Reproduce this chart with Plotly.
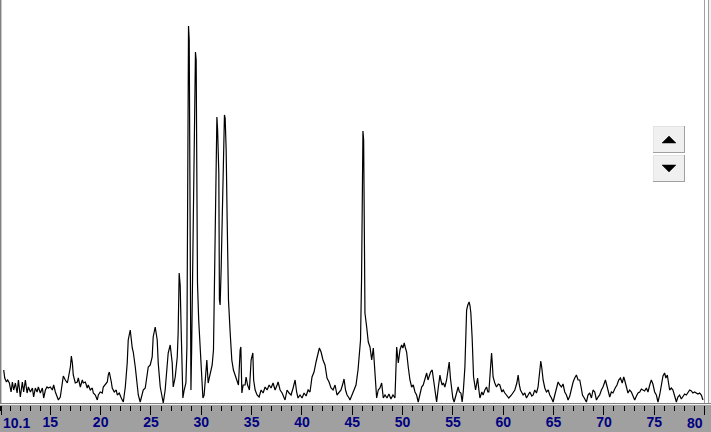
import plotly.graph_objects as go

# ---- data: 2-theta (deg) and intensity (arb. units) ----
two_theta = [
    10.37, 10.47, 10.64, 10.76, 10.93, 11.10, 11.23, 11.36, 11.53, 11.70,
    11.83, 12.02, 12.22, 12.35, 12.52, 12.69, 12.82, 13.02, 13.22, 13.34,
    13.51, 13.68, 13.81, 14.01, 14.21, 14.34, 14.51, 14.67, 14.80, 15.00,
    15.20, 15.33, 15.50, 15.67, 15.80, 15.99, 16.19, 16.29, 16.49, 16.69,
    16.79, 16.99, 17.09, 17.19, 17.28, 17.48, 17.68, 17.78, 17.98, 18.18,
    18.28, 18.48, 18.67, 18.77, 18.97, 19.17, 19.27, 19.47, 19.67, 19.77,
    19.96, 20.16, 20.26, 20.46, 20.66, 20.76, 20.86, 21.06, 21.15, 21.35,
    21.55, 21.65, 21.85, 22.05, 22.25, 22.45, 22.64, 22.74, 22.94, 23.14,
    23.24, 23.44, 23.64, 23.74, 23.93, 24.13, 24.23, 24.43, 24.63, 24.73,
    24.93, 25.12, 25.22, 25.42, 25.62, 25.72, 25.92, 26.12, 26.22, 26.41,
    26.61, 26.71, 26.91, 27.11, 27.21, 27.41, 27.61, 27.70, 27.80, 27.90,
    28.00, 28.17, 28.30, 28.47, 28.57, 28.65, 28.73, 28.80, 28.87, 28.97,
    29.04, 29.12, 29.22, 29.34, 29.42, 29.49, 29.62, 29.74, 29.89, 30.04,
    30.16, 30.28, 30.43, 30.55, 30.68, 30.88, 31.08, 31.21, 31.31, 31.38,
    31.55, 31.62, 31.74, 31.80, 31.87, 31.97, 32.04, 32.17, 32.30, 32.37,
    32.47, 32.57, 32.70, 32.87, 33.03, 33.19, 33.36, 33.51, 33.69, 33.86,
    33.93, 34.03, 34.16, 34.35, 34.45, 34.60, 34.78, 34.95, 35.12, 35.20,
    35.35, 35.54, 35.74, 35.94, 36.14, 36.34, 36.54, 36.74, 36.93, 37.13,
    37.33, 37.53, 37.63, 37.83, 38.03, 38.32, 38.52, 38.72, 38.92, 39.12,
    39.32, 39.47, 39.61, 39.81, 40.01, 40.21, 40.41, 40.61, 40.80, 41.00,
    41.20, 41.40, 41.60, 41.73, 41.90, 42.09, 42.29, 42.49, 42.69, 42.89,
    43.09, 43.29, 43.48, 43.68, 43.88, 44.08, 44.18, 44.33, 44.48, 44.68,
    44.77, 44.97, 45.17, 45.37, 45.57, 45.72, 45.82, 45.92, 45.99, 46.06,
    46.13, 46.19, 46.26, 46.43, 46.59, 46.76, 46.93, 47.09, 47.26, 47.42,
    47.58, 47.75, 47.92, 48.08, 48.25, 48.45, 48.64, 48.84, 49.04, 49.24,
    49.41, 49.57, 49.74, 49.90, 50.03, 50.16, 50.28, 50.40, 50.56, 50.73,
    50.90, 51.06, 51.23, 51.39, 51.55, 51.72, 51.89, 52.05, 52.22, 52.39,
    52.52, 52.61, 52.78, 52.94, 53.14, 53.26, 53.38, 53.54, 53.71, 53.80,
    53.93, 54.05, 54.20, 54.37, 54.50, 54.63, 54.75, 54.87, 54.99, 55.12,
    55.29, 55.52, 55.64, 55.79, 55.92, 56.04, 56.19, 56.29, 56.36, 56.48,
    56.61, 56.70, 56.78, 56.91, 57.05, 57.25, 57.45, 57.58, 57.68, 57.87,
    58.00, 58.17, 58.34, 58.47, 58.57, 58.72, 58.84, 58.92, 58.99, 59.16,
    59.33, 59.51, 59.66, 59.86, 59.99, 60.16, 60.33, 60.55, 60.82, 61.00,
    61.15, 61.35, 61.48, 61.60, 61.71, 61.97, 62.14, 62.31, 62.49, 62.64,
    62.84, 62.97, 63.13, 63.30, 63.46, 63.58, 63.73, 63.83, 63.96, 64.13,
    64.29, 64.47, 64.62, 64.79, 64.95, 65.12, 65.29, 65.45, 65.61, 65.78,
    65.94, 66.11, 66.28, 66.44, 66.61, 66.77, 66.94, 67.10, 67.27, 67.43,
    67.60, 67.75, 67.87, 68.05, 68.26, 68.42, 68.59, 68.76, 68.92, 69.09,
    69.26, 69.42, 69.58, 69.75, 69.91, 70.15, 70.33, 70.58, 70.74, 70.90,
    71.12, 71.30, 71.47, 71.64, 71.82, 71.97, 72.06, 72.23, 72.39, 72.56,
    72.73, 72.89, 73.06, 73.23, 73.39, 73.56, 73.72, 73.88, 74.05, 74.22,
    74.38, 74.55, 74.71, 74.87, 75.04, 75.21, 75.37, 75.54, 75.71, 75.87,
    76.03, 76.16, 76.30, 76.43, 76.53, 76.70, 76.86, 77.03, 77.20, 77.35,
    77.52, 77.69, 77.85, 78.02, 78.19, 78.35, 78.52, 78.69, 78.84, 79.01,
    79.18, 79.34, 79.51, 79.68, 79.84,
]
intensity = [
    33, 25, 21, 23, 20, 11, 21, 13, 20, 10,
    23, 6, 21, 11, 23, 10, 16, 11, 15, 6,
    15, 11, 16, 10, 15, 5, 13, 16, 15, 16,
    13, 18, 11, 5, 3, 6, 18, 27, 23, 20,
    25, 36, 47, 40, 28, 20, 21, 25, 16, 23,
    20, 21, 15, 18, 13, 15, 10, 8, 3, 8,
    11, 10, 16, 18, 21, 28, 31, 21, 15, 11,
    13, 8, 10, 5, 1, 16, 40, 63, 73, 55,
    51, 36, 16, 8, 1, 10, 13, 15, 33, 36,
    38, 46, 66, 76, 63, 40, 16, 5, 0, 13,
    33, 50, 58, 40, 16, 26, 46, 70, 130, 118,
    73, 5, 13, 20, 56, 203, 377, 363, 153, 13,
    53, 123, 203, 303, 351, 343, 120, 83, 53, 18,
    5, 8, 33, 43, 20, 30, 38, 53, 123, 213,
    286, 273, 230, 103, 98, 133, 170, 233, 288, 285,
    253, 183, 103, 70, 43, 33, 28, 25, 18, 53,
    56, 10, 18, 18, 26, 18, 13, 43, 50, 23,
    13, 8, 6, 13, 10, 16, 13, 18, 15, 20,
    13, 18, 21, 13, 10, 3, 13, 10, 8, 15,
    23, 11, 5, 8, 5, 10, 7, 13, 11, 26,
    31, 41, 48, 55, 51, 43, 38, 25, 21, 15,
    13, 18, 8, 11, 13, 20, 24, 13, 8, 5,
    3, 8, 13, 18, 33, 48, 63, 123, 223, 272,
    263, 153, 90, 76, 61, 56, 43, 55, 30, 5,
    13, 15, 20, 5, 8, 5, 9, 4, 8, 5,
    56, 40, 53, 58, 55, 60, 55, 51, 36, 23,
    16, 18, 11, 8, 1, 8, 16, 18, 25, 30,
    23, 26, 31, 33, 20, 8, 1, 15, 28, 23,
    18, 20, 16, 23, 33, 41, 25, 13, 5, 1,
    8, 16, 11, 10, 1, 13, 36, 73, 93, 98,
    101, 97, 90, 65, 26, 13, 25, 13, 5, 11,
    8, 13, 16, 11, 11, 33, 50, 38, 26, 20,
    16, 19, 18, 11, 13, 10, 8, 5, 8, 11,
    13, 20, 28, 18, 13, 8, 10, 5, 8, 11,
    7, 8, 13, 10, 16, 28, 42, 35, 23, 15,
    11, 13, 8, 5, 1, 8, 15, 21, 18, 16,
    19, 11, 8, 3, 7, 15, 21, 25, 28, 23,
    23, 15, 8, 5, 1, 8, 10, 5, 13, 11,
    3, 6, 8, 13, 16, 23, 15, 6, 11, 10,
    15, 18, 23, 25, 20, 26, 23, 15, 10, 13,
    11, 7, 3, 7, 10, 11, 14, 13, 12, 15,
    11, 18, 23, 19, 11, 8, 1, 8, 20, 27,
    30, 25, 28, 18, 13, 15, 13, 7, 1, 6,
    8, 4, 6, 9, 8, 11, 13, 12, 10, 11,
    10, 9, 10, 8, 3,
]
tick_values = [10.1, 15, 20, 25, 30, 35, 40, 45, 50, 55, 60, 65, 70, 75, 80]
tick_labels = ["10.1", "15", "20", "25", "30", "35", "40", "45", "50",
               "55", "60", "65", "70", "75", "80"]

# ---- layout constants ----
W, H = 711, 432
PLOT_H = 405  # plot area height in px (top margin 0)
LABEL_FONT = dict(family="Liberation Sans, Arial, sans-serif", size=14,
                  color="#000080", weight="bold")

def px(x):
    return x / W

def py(y):
    return 1 - y / PLOT_H

# first and last labels are drawn flush with the window edges (as in the original)
axis_labels = [""] + tick_labels[1:-1] + [""]

fig = go.Figure()
fig.add_trace(go.Scatter(
    x=two_theta, y=intensity, mode="lines",
    line=dict(color="black", width=1.2), hoverinfo="skip",
))

def vline(xx, y0, y1, col):
    return dict(type="line", xref="paper", yref="paper", x0=px(xx), x1=px(xx),
                y0=py(y1), y1=py(y0), line=dict(color=col, width=1))

def hline(yy, x0, x1, col):
    return dict(type="line", xref="paper", yref="paper", x0=px(x0), x1=px(x1),
                y0=py(yy), y1=py(yy), line=dict(color=col, width=1))

shapes = []
# right frame strip
shapes.append(dict(type="rect", xref="paper", yref="paper", x0=px(704.5), x1=1.01,
                   y0=py(405), y1=1.01, fillcolor="white", line=dict(width=0)))
shapes.append(dict(type="rect", xref="paper", yref="paper", x0=px(709), x1=1.01,
                   y0=py(405), y1=1.01, fillcolor="#f0f0f0", line=dict(width=0)))
shapes.append(vline(704.5, 0, 405, "#a0a0a0"))
shapes.append(vline(708.5, 0, 405, "#a0a0a0"))
# left frame
shapes.append(vline(0.5, 0, 405, "#808080"))
shapes.append(vline(1.5, 0, 405, "#c8c8c8"))
# bottom frame
shapes.append(hline(403.5, 0, W, "#808080"))
shapes.append(hline(404.5, 0, W, "#f0f0f0"))

# scroll buttons (3-D look)
def button(x0, y0, x1, y1, up):
    out = [dict(type="rect", xref="paper", yref="paper", x0=px(x0), x1=px(x1),
                y0=py(y1), y1=py(y0), fillcolor="#f0f0f0", line=dict(width=0))]
    out.append(hline(y0 + 0.5, x0, x1, "#e3e3e3"))
    out.append(vline(x0 + 0.5, y0, y1, "#e3e3e3"))
    out.append(hline(y1 - 0.5, x0, x1, "#a0a0a0"))
    out.append(vline(x1 - 0.5, y0, y1, "#a0a0a0"))
    cx, cy = (x0 + x1) / 2, (y0 + y1) / 2
    if up:
        pts = [(cx - 7, cy + 3.5), (cx + 7, cy + 3.5), (cx, cy - 3.5)]
    else:
        pts = [(cx - 7, cy - 3.5), (cx + 7, cy - 3.5), (cx, cy + 3.5)]
    path = "M " + " L ".join(f"{px(a)},{py(b)}" for a, b in pts) + " Z"
    out.append(dict(type="path", xref="paper", yref="paper", path=path,
                    fillcolor="black", line=dict(color="black", width=0.5)))
    return out

shapes += button(653, 126, 685, 153, True)
shapes += button(653, 155, 685, 182, False)

annotations = [
    dict(text=tick_labels[0], xref="paper", yref="paper", x=px(1), y=py(423),
         xanchor="left", yanchor="middle", showarrow=False, font=LABEL_FONT),
    dict(text=tick_labels[-1], xref="paper", yref="paper", x=px(705), y=py(423),
         xanchor="right", yanchor="middle", showarrow=False, font=LABEL_FONT),
]

fig.update_layout(
    width=W, height=H,
    margin=dict(l=0, r=0, t=0, b=H - PLOT_H, pad=0, autoexpand=False),
    paper_bgcolor="#a0a0a0", plot_bgcolor="white",
    showlegend=False,
    shapes=shapes,
    annotations=annotations,
    xaxis=dict(
        range=[10.0, 80.64], tickmode="array", tickvals=tick_values,
        ticktext=axis_labels, tickangle=0, automargin=False,
        ticklabeloverflow="allow", ticklabelstandoff=-5,
        ticks="outside", ticklen=9, tickwidth=1, tickcolor="black",
        tickfont=LABEL_FONT,
        minor=dict(tickmode="linear", tick0=10, dtick=1, ticks="outside",
                   ticklen=5, tickwidth=1, tickcolor="black"),
        showgrid=False, zeroline=False, showline=False, fixedrange=True,
    ),
    yaxis=dict(range=[-2, 403], visible=False, fixedrange=True, automargin=False),
)

fig.write_html(
    "out.html",
    config={"displayModeBar": False},
    post_script="document.body.style.margin='0';document.body.style.overflow='hidden';",
)
